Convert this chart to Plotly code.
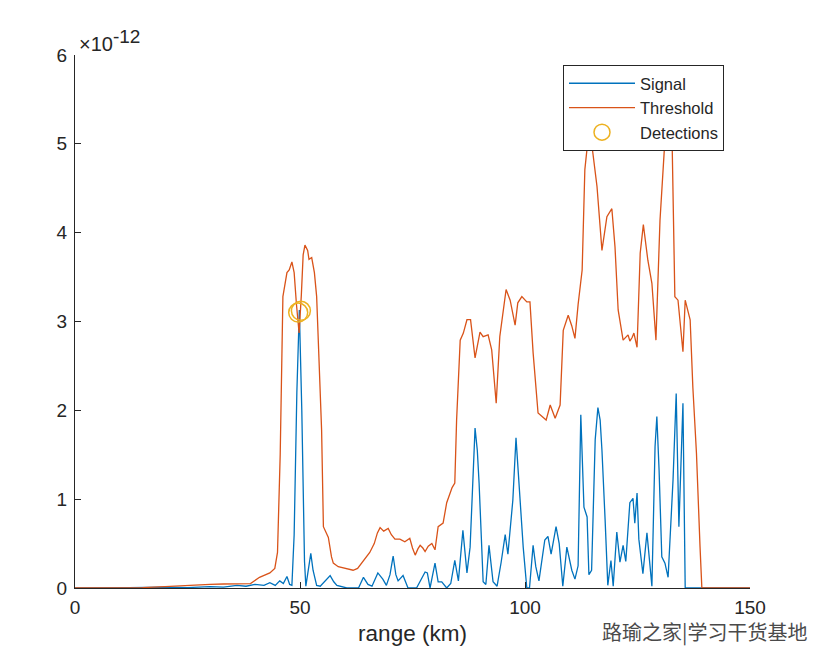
import plotly.graph_objects as go

# Threshold curve (range km, value in units of 1e-12)
thr_x = [0, 10, 15, 20, 25, 30, 33, 36, 39, 41, 43.3, 44.4, 45.0, 45.6, 46.2, 47.1, 47.6, 48.2, 48.7, 49.2,
         49.8, 50.3, 50.7, 51.1, 51.7, 52.0, 52.6, 53.2, 53.7, 54.2, 54.8, 55.2, 55.8, 56.3, 57.0, 57.4,
         58.5, 60, 61.8, 62.8, 64, 65.5, 66.5, 67.2, 67.8, 68.6, 69.6, 70.3, 71.1, 72.2, 73.3, 74.4, 75.0,
         75.6, 76.2, 76.7, 77.3, 77.8, 78.5, 79.3, 80, 80.7, 81.8, 82.6, 83.8, 84.4, 84.8, 85.6, 86.3,
         87.1, 87.9, 88.9, 90, 90.7, 91.8, 92.6, 93.6, 94.4, 95.8, 96.7, 97.8, 98.4, 99.3, 100.4, 101.1,
         101.8, 102.9, 103.8, 104.7, 105.6, 106.7, 107.8, 108.5, 109.6, 110.4, 111.1, 111.8, 112.7, 113.3,
         114.0, 114.9, 116.0, 117.1, 118.2, 119.3, 120.0, 120.7, 121.8, 122.9, 123.3, 123.8, 124.2, 124.9,
         125.6, 126.3, 127.3, 128.2, 129.1, 130.0, 131.1, 132.0, 132.7, 133.3, 134.0, 135.1, 135.6, 136.7,
         137.3, 138.1, 138.9, 139.3, 150]
thr_y = [0, 0, 0.005, 0.015, 0.03, 0.04, 0.045, 0.05, 0.05, 0.12, 0.17, 0.22, 0.4, 1.5, 3.28, 3.55, 3.58,
         3.67, 3.55, 3.2, 2.87, 3.3, 3.75, 3.86, 3.80, 3.70, 3.72, 3.55, 3.28, 2.6, 1.78, 0.69, 0.62, 0.57,
         0.35, 0.28, 0.24, 0.22, 0.2, 0.22, 0.3, 0.4, 0.5, 0.62, 0.68, 0.64, 0.67, 0.6, 0.55, 0.55, 0.52,
         0.56, 0.45, 0.37, 0.44, 0.48, 0.45, 0.41, 0.47, 0.5, 0.43, 0.69, 0.73, 0.96, 1.13, 1.18, 1.89, 2.79,
         2.87, 3.02, 3.02, 2.59, 2.88, 2.83, 2.85, 2.68, 2.08, 2.83, 3.36, 3.24, 2.96, 3.21, 3.28, 3.22,
         3.22, 2.65, 1.97, 1.93, 1.89, 2.06, 1.91, 2.06, 2.9, 3.07, 2.95, 2.81, 3.19, 3.58, 4.71, 5.05,
         4.97, 4.52, 3.8, 4.18, 4.27, 3.84, 3.13, 2.79, 2.85, 2.78, 2.82, 2.87, 2.71, 3.77, 4.09, 3.69,
         3.43, 2.79, 4.14, 5.05, 5.1, 5.0, 3.28, 3.24, 2.66, 3.24, 3.02, 2.26, 1.52, 0.46, 0, 0]

# Signal curve (range km, value in units of 1e-12)
sig_x = [0, 8, 12, 20, 25, 30, 33, 36, 38, 40, 42, 43.3, 44.5, 45.5, 46.3, 47.1, 47.7, 48.2, 48.7, 49.3,
         49.85, 50.4, 51.0, 51.3, 51.8, 52.4, 52.9, 53.7, 54.5, 55.5, 56.7, 57.5, 58.2, 60.4, 63, 64.1,
         65.1, 66, 67.3, 68.4, 69.2, 70.0, 70.7, 71.3, 71.8, 72.9, 74, 75.9, 77.8, 78.3, 78.9, 80, 80.7,
         81.5, 82, 82.6, 83.5, 84.4, 85.2, 86.2, 87.1, 87.8, 88.9, 89.4, 89.8, 90.7, 91.3, 92.0, 92.9,
         93.8, 94.7, 95.6, 96.2, 97.3, 98.0, 98.7, 99.6, 100.4, 101.0, 101.8, 102.4, 103.1, 104.4, 105.1,
         105.8, 106.9, 107.6, 108.4, 109.3, 110.4, 111.1, 111.8, 112.4, 113.1, 113.8, 114.2, 114.8, 115.6,
         116.2, 116.7, 117.1, 117.8, 118.4, 119.1, 119.6, 120.4, 121.1, 121.8, 122.4, 123.3, 124.0, 124.4,
         124.9, 125.3, 126.2, 127.1, 128.2, 128.9, 129.3, 129.8, 130.4, 131.1, 131.8, 132.9, 133.6, 134.2,
         135.1, 135.6, 150]
sig_y = [0, 0, 0.005, 0.01, 0.005, 0.015, 0.01, 0.03, 0.02, 0.04, 0.03, 0.06, 0.03, 0.08, 0.05, 0.13,
         0.04, 0.03, 0.6, 2.2, 3.13, 2.0, 0.3, 0.02, 0.2, 0.39, 0.2, 0.03, 0.02, 0.08, 0.14, 0.07, 0.03,
         0.0, 0.0, 0.12, 0.04, 0.02, 0.17, 0.1, 0.03, 0.15, 0.36, 0.15, 0.08, 0.14, 0.0, 0.0, 0.18, 0.17,
         0.0, 0.28, 0.07, 0.07, 0.04, 0.0, 0.05, 0.31, 0.08, 0.65, 0.17, 0.46, 1.8, 1.55, 1.18, 0.07, 0.04,
         0.48, 0.07, 0.02, 0.29, 0.6, 0.38, 0.99, 1.69, 1.14, 0.46, 0.0, 0.0, 0.48, 0.24, 0.08, 0.54,
         0.58, 0.38, 0.69, 0.5, 0.02, 0.46, 0.2, 0.1, 0.25, 1.95, 0.91, 0.8, 0.15, 0.2, 1.67, 2.03, 1.89,
         1.55, 0.77, 0.03, 0.31, 0.02, 0.63, 0.29, 0.48, 0.3, 0.96, 1.01, 0.73, 1.07, 0.55, 0.16, 0.62,
         0.02, 1.59, 1.93, 1.32, 0.35, 0.28, 0.12, 1.22, 2.19, 0.69, 2.08, 0.0, 0.0]

# Detections
det_x = [49.6, 50.2]
det_y = [3.1, 3.12]

x_ticks = [0, 50, 100, 150]
y_ticks = [0, 1, 2, 3, 4, 5, 6]

FONT = "Liberation Sans, Arial, sans-serif"
TXT = "#262626"

ML, MT, MR, MB = 67, 47, 78, 70
W, H = 820, 650
PW, PH = W - ML - MR, H - MT - MB


def px_to_paper(px, py):
    # page pixel -> paper coords (page has 8px body margin)
    fx, fy = px - 8, py - 8
    return (fx - ML) / PW, (H - MB - fy) / PH


fig = go.Figure()
fig.add_trace(go.Scatter(x=sig_x, y=sig_y, mode="lines", name="Signal",
                         line=dict(color="#0072BD", width=1.3)))
fig.add_trace(go.Scatter(x=thr_x, y=thr_y, mode="lines", name="Threshold",
                         line=dict(color="#D95319", width=1.3)))
fig.add_trace(go.Scatter(x=det_x, y=det_y, mode="markers", name="Detections",
                         marker=dict(symbol="circle-open", size=19, color="#EDB120",
                                     line=dict(width=1.5, color="#EDB120"))))

axis_common = dict(showgrid=False, zeroline=False, showline=True, linecolor=TXT, linewidth=1,
                   ticks="inside", ticklen=6, tickcolor=TXT, tickwidth=1,
                   tickfont=dict(family=FONT, size=19, color=TXT), mirror=False)

lx, ly = px_to_paper(563, 65)
fig.update_layout(
    width=W, height=H,
    margin=dict(l=ML, r=MR, t=MT, b=MB),
    paper_bgcolor="white", plot_bgcolor="white",
    font=dict(family=FONT, color=TXT),
    xaxis=dict(range=[0, 150], tickvals=x_ticks,
               title=dict(text="range (km)", font=dict(family=FONT, size=22.5, color=TXT), standoff=8),
               ticklabelstandoff=2, **axis_common),
    yaxis=dict(range=[0, 6], tickvals=y_ticks, ticklabelstandoff=3, **axis_common),
    legend=dict(x=lx, y=ly, xanchor="left", yanchor="top",
                bgcolor="white", bordercolor=TXT, borderwidth=1,
                font=dict(family=FONT, size=16.5, color=TXT),
                itemwidth=66, tracegroupgap=0),
    showlegend=True,
)

ex, ey = px_to_paper(77, 40)
fig.add_annotation(x=ex, y=ey, xref="paper", yref="paper", xanchor="left", yanchor="middle",
                   text="×10<sup><span style='font-size:19px'>-12</span></sup>", showarrow=False,
                   font=dict(family=FONT, size=20, color=TXT))

wx, wy = px_to_paper(809, 631)
fig.add_annotation(x=wx, y=wy, xref="paper", yref="paper", xanchor="right", yanchor="middle",
                   text="路瑜之家|学习干货基地", showarrow=False,
                   font=dict(family="Noto Sans CJK SC", size=20, color="#4a4a4a"))

fig.write_html("out.html")
